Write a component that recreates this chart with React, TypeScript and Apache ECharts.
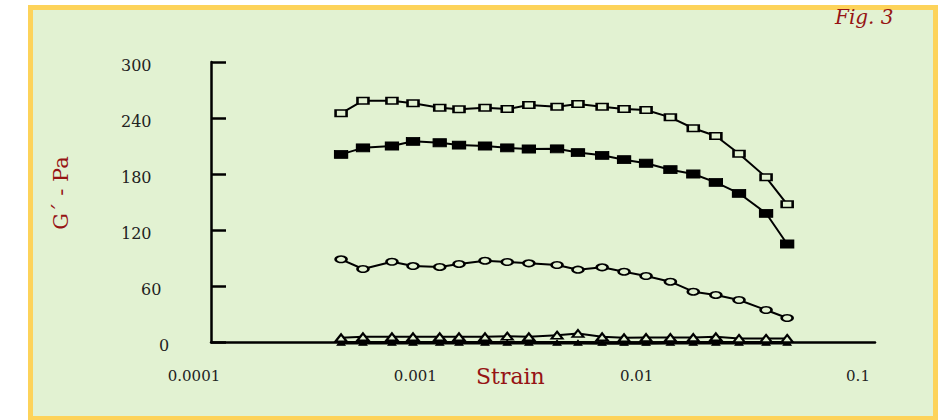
import React, { useEffect, useRef } from "react";
import * as echarts from "echarts";

// Strain values (x), shared by all series
const strain = [
  0.000387, 0.000486, 0.000657, 0.000818, 0.00108, 0.00132, 0.00173, 0.00218,
  0.00273, 0.00366, 0.00455, 0.00585, 0.00735, 0.00924, 0.0119, 0.0151, 0.0191,
  0.0243, 0.0322, 0.0401,
];

const openSquares = [
  245, 258.5, 258.5, 255.7, 251, 249.3, 251, 249.6, 254, 252, 255, 252, 249.6,
  248.6, 240.7, 229, 220.7, 201.7, 176.5, 147.5,
];
const filledSquares = [
  201, 208, 210, 215, 213.5, 211, 210, 208, 206.8, 207, 203, 200, 195.3, 191.5,
  184.6, 180, 171, 159.3, 137.9, 105,
];
const openCircles = [
  88.6, 78.2, 86, 81.4, 80.4, 83.6, 87.1, 85.7, 84.3, 82.5, 77.5, 80, 75.3,
  70.7, 64.6, 53.9, 50.4, 45, 34.3, 25.7,
];
const openTriangles = [
  4.5, 5.6, 5.6, 5.6, 5.6, 5.6, 5.6, 6.2, 5.6, 7.3, 9.1, 5.6, 4.5, 4.8, 4.8,
  4.8, 5.6, 3.8, 3.8, 3.8,
];
const filledTriangles = [
  -0.8, -0.8, -0.8, -0.8, -0.8, -0.8, -0.8, -0.8, -0.8, -0.8, -0.8, -1, -1, -1,
  -0.8, -0.8, -0.8, -0.8, -0.8, -0.8,
];

const xTickLabels = ["0.0001", "0.001", "0.01", "0.1"];
const yTickLabels = ["0", "60", "120", "180", "240", "300"];

const FONT = "DejaVu Serif";
const RED = "#961414";
const BG = "#E2F2D2";

function pairs(ys: number[]) {
  return ys.map((y, i) => [strain[i], y]);
}

export default function App() {
  const ref = useRef<HTMLDivElement>(null);
  useEffect(() => {
    if (!ref.current) return;
    const chart = echarts.init(ref.current, null, { renderer: "svg" });
    const lineStyle = { color: "#000", width: 2 };
    const yRich = {
      fontFamily: FONT,
      fontSize: 16,
      color: "#222",
    };
    chart.setOption({
      animation: false,
      backgroundColor: "#ffffff",
      graphic: [
        {
          type: "rect",
          z: -10,
          shape: { x: 30.5, y: 7.5, width: 905, height: 411 },
          style: { fill: BG, stroke: "#FDD35A", lineWidth: 5 },
        },
      ],
      title: [
        {
          text: "Fig. 3",
          left: 835,
          top: 7,
          padding: 0,
          textStyle: {
            fontFamily: FONT,
            fontStyle: "italic",
            fontWeight: "normal",
            fontSize: 20,
            color: RED,
          },
        },
        {
          text: "Strain",
          left: 476,
          top: 365,
          padding: 0,
          textStyle: {
            fontFamily: FONT,
            fontWeight: "normal",
            fontSize: 22,
            color: RED,
          },
        },
      ],
      grid: { left: 211, top: 62, right: 71, bottom: 78 },
      xAxis: {
        type: "log",
        logBase: 10,
        min: 0.0001,
        max: 0.1,
        splitLine: { show: false },
        axisLine: { lineStyle: { color: "#000", width: 2.5 } },
        axisTick: {
          show: true,
          inside: true,
          length: 8,
          customValues: [0.1],
          lineStyle: { color: "#000", width: 2.5 },
        },
        minorTick: { show: false },
        axisLabel: {
          margin: 26,
          fontFamily: FONT,
          fontSize: 15,
          color: "#222",
          padding: [0, 34, 0, 0],
          formatter: (v: number) =>
            xTickLabels[Math.round(Math.log10(v)) + 4] ?? "",
        },
      },
      yAxis: {
        type: "value",
        min: 0,
        max: 300,
        interval: 60,
        name: "G´ - Pa",
        nameLocation: "middle",
        nameRotate: 90,
        nameGap: 140,
        nameTextStyle: {
          fontFamily: FONT,
          fontSize: 21,
          color: RED,
          padding: [0, 0, 0, 18],
        },
        splitLine: { show: false },
        axisLine: { show: true, lineStyle: { color: "#000", width: 2.5 } },
        axisTick: {
          show: true,
          inside: true,
          length: 15,
          lineStyle: { color: "#000", width: 2.5 },
        },
        axisLabel: {
          margin: 90,
          align: "left",
          fontFamily: FONT,
          fontSize: 16,
          color: "#222",
          formatter: (v: number) => {
            const s = yTickLabels[Math.round(v / 60)] ?? "";
            const key = s.length === 1 ? "one" : s.length === 2 ? "two" : "three";
            return `{${key}|${s}}`;
          },
          rich: {
            three: { ...yRich, padding: [6, 0, 0, 0] },
            two: { ...yRich, padding: [6, 0, 0, 20] },
            one: { ...yRich, padding: [6, 0, 0, 38] },
          },
        },
      },
      series: [
        {
          type: "line",
          data: pairs(filledTriangles),
          symbol: "triangle",
          symbolSize: [8, 5],
          clip: false,
          itemStyle: { color: "#000", borderColor: "#000", borderWidth: 1 },
          lineStyle: { color: "#000", width: 3.5 },
        },
        {
          type: "line",
          data: pairs(openTriangles),
          symbol: "triangle",
          symbolSize: [11, 7],
          itemStyle: { color: BG, borderColor: "#000", borderWidth: 2 },
          lineStyle,
        },
        {
          type: "line",
          data: pairs(openCircles),
          symbol: "circle",
          symbolSize: [11, 6.5],
          itemStyle: { color: BG, borderColor: "#000", borderWidth: 2 },
          lineStyle,
        },
        {
          type: "line",
          data: pairs(filledSquares),
          symbol: "rect",
          symbolSize: [13, 8],
          itemStyle: { color: "#000", borderColor: "#000", borderWidth: 1 },
          lineStyle,
        },
        {
          type: "line",
          data: pairs(openSquares),
          symbol: "rect",
          symbolSize: [11, 6.5],
          itemStyle: { color: BG, borderColor: "#000", borderWidth: 2 },
          lineStyle,
        },
      ],
    });
    return () => chart.dispose();
  }, []);
  return (
    <div
      ref={ref}
      style={{ position: "absolute", left: 0, top: 0, width: 946, height: 420 }}
    />
  );
}
